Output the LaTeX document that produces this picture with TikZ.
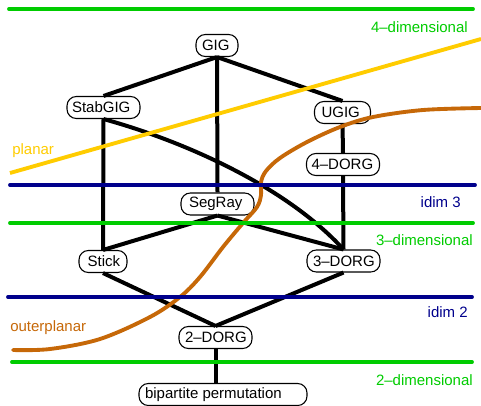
\documentclass[tikz,border=0pt]{standalone}
\usepackage{fontspec}
\setmainfont{Liberation Sans}
\definecolor{dimgreen}{RGB}{0,204,0}
\definecolor{idimblue}{RGB}{0,0,140}
\definecolor{planarcol}{RGB}{255,204,0}
\definecolor{outercol}{RGB}{198,104,8}
\newcommand\bx[3][4.5pt]{\makebox[#2][l]{\hspace*{#1}#3}}
\begin{document}
\begin{tikzpicture}[x=0.75pt,y=-0.75pt,
  cls/.style={draw=black, line width=0.8pt, fill=white, rounded corners=7pt,
    inner xsep=0pt, inner ysep=0pt, minimum height=16.5pt,
    font=\fontsize{11.25pt}{13.5pt}\selectfont},
  edge/.style={line width=3pt, black},
  band/.style={line width=2.9pt, line cap=round},
  lab/.style={inner sep=0pt, font=\fontsize{11.25pt}{13.5pt}\selectfont},
]
\useasboundingbox (0,0) rectangle (481,405);

% nodes
\node[cls] (gig)   at (217,45.5)  {\bx{31.5pt}{GIG}};
\node[cls] (stab)  at (103.5,107.5) {\bx[3.75pt]{54.75pt}{StabGIG}};
\node[cls] (ugig)  at (342.5,112.5) {\bx[5.25pt]{42pt}{UGIG}};
\node[cls] (dorg4) at (343,164.5) {\bx[3.75pt]{54.75pt}{4–DORG}};
\node[cls] (seg)   at (217.5,204) {\bx[6pt]{54.75pt}{SegRay}};
\node[cls] (stick) at (103,261.5) {\bx[6.5pt]{36pt}{Stick}};
\node[cls] (dorg3) at (343.5,261) {\bx{54.75pt}{3–DORG}};
\node[cls] (dorg2) at (215.5,337.5) {\bx{54.75pt}{2–DORG}};
\node[cls] (bip)   at (223,394.5) {\bx{126pt}{bipartite permutation}};

% edges
\draw[edge] (gig.south) -- (stab.north);
\draw[edge] (gig.south) -- (ugig.north);
\draw[edge] (gig.south) -- (seg.north);
\draw[edge] (stab.south) -- (stick.north);
\draw[edge] (stab.south) .. controls (180,140) and (285,185) .. (dorg3.north);
\draw[edge] (ugig.south) -- (dorg4.north);
\draw[edge] (dorg4.south) -- (dorg3.north);
\draw[edge] (seg.south) -- (stick.north);
\draw[edge] (seg.south) -- (dorg3.north);
\draw[edge] (stick.south) -- (dorg2.north);
\draw[edge] (dorg3.south) -- (dorg2.north);
\draw[edge] (dorg2.south) -- (dorg2.south |- bip.north);

% class boundaries
\draw[band, outercol] plot[smooth, tension=0.55] coordinates {
  (13,350) (50,349) (100,339) (150,317) (180,297) (200,277) (223,247)
  (243,223) (257,207) (261,195) (261,182) (266,171) (280,158) (307,142)
  (340,127) (373,117) (423,110) (481,108)};
\draw[band, planarcol, line cap=butt] (10,173) -- (481,39);
\draw[band, dimgreen] (9,9) -- (473,9);
\draw[band, idimblue] (10,185) -- (475,185);
\draw[band, dimgreen] (10,223) -- (473,223);
\draw[band, idimblue] (8,297) -- (472,297);
\draw[band, dimgreen] (12,362) -- (472,362);

% labels
\node[lab, dimgreen, anchor=base east] (l4d) at (468,32.5) {4–dimensional};
\node[lab, planarcol, anchor=base west] (lpl) at (12,154) {planar};
\node[lab, idimblue, anchor=base east] (li3) at (461,207) {idim 3};
\node[lab, dimgreen, anchor=base east] (l3d) at (473,245) {3–dimensional};
\node[lab, idimblue, anchor=base east] (li2) at (468,317) {idim 2};
\node[lab, outercol, anchor=base west] (lop) at (10,331) {outerplanar};
\node[lab, dimgreen, anchor=base east] (l2d) at (473,385) {2–dimensional};
\end{tikzpicture}
\end{document}
